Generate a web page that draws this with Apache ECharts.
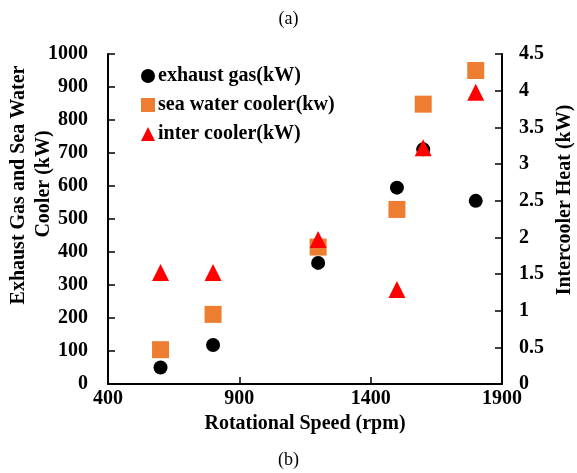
<!DOCTYPE html>
<html><head><meta charset="utf-8">
<script src="https://cdn.jsdelivr.net/npm/echarts@6/dist/echarts.min.js"></script>
<style>html,body{margin:0;padding:0;background:#fff}#c{width:577px;height:473px}</style>
</head><body><div id="c"></div>
<script>
const speeds = [600, 800, 1200, 1500, 1600, 1800];
const exhaustGas = [50, 118, 367, 595, 711, 555];
const seaWater = [104, 211, 415, 529, 848, 950];
const interCooler = [1.52, 1.52, 1.97, 1.29, 3.22, 3.98];
const xTicks = [400, 900, 1400, 1900];

const F = 'Liberation Serif, Times New Roman, serif';
const pair = (xs, ys) => xs.map((x, i) => [x, ys[i]]);
const plain = v => String(v);
const chart = echarts.init(document.getElementById('c'));
const bold = {fontFamily: F, fontSize: 20, fontWeight: 'bold', color: '#000'};
chart.setOption({
  animation: false,
  textStyle: {fontFamily: F},
  title: [
    {text: '(a)', left: 'center', top: 5, textStyle: {fontFamily: F, fontSize: 18, fontWeight: 'normal', color: '#000'}},
    {text: '(b)', left: 'center', top: 446, textStyle: {fontFamily: F, fontSize: 18, fontWeight: 'normal', color: '#000'}}
  ],
  graphic: [
    {type: 'text', x: 19, y: 185, rotation: Math.PI / 2,
     style: {text: 'Exhaust Gas and Sea Water', font: 'bold 20px ' + F, fill: '#000', align: 'center', verticalAlign: 'middle'}},
    {type: 'text', x: 44, y: 184, rotation: Math.PI / 2,
     style: {text: 'Cooler (kW)', font: 'bold 20px ' + F, fill: '#000', align: 'center', verticalAlign: 'middle'}},
    {type: 'text', x: 565, y: 200, rotation: Math.PI / 2,
     style: {text: 'Intercooler Heat (kW)', font: 'bold 20px ' + F, fill: '#000', align: 'center', verticalAlign: 'middle'}}
  ],
  grid: {left: 108, right: 75, top: 54, bottom: 89},
  legend: {
    orient: 'vertical', left: 136, top: 61, itemGap: 9, itemWidth: 14, itemHeight: 14,
    textStyle: {fontFamily: F, fontSize: 20, fontWeight: 'bold', color: '#000', padding: [0, 0, 0, -2]},
    data: [
      {name: 'exhaust gas(kW)', icon: 'circle'},
      {name: 'sea water cooler(kw)', icon: 'rect'},
      {name: 'inter cooler(kW)', icon: 'triangle'}
    ]
  },
  xAxis: {
    type: 'value', min: xTicks[0], max: xTicks[xTicks.length - 1], interval: 500,
    name: 'Rotational Speed (rpm)', nameLocation: 'middle', nameGap: 16,
    nameTextStyle: bold,
    axisLine: {onZero: false, lineStyle: {color: '#000', width: 2}},
    axisTick: {inside: true, length: 7, lineStyle: {color: '#000', width: 1.5}},
    axisLabel: Object.assign({margin: 5, formatter: plain}, bold),
    splitLine: {show: false}
  },
  yAxis: [
    {
      type: 'value', min: 0, max: 1000, interval: 100,
      axisLine: {show: true, lineStyle: {color: '#000', width: 2}},
      axisTick: {show: true, inside: true, length: 7, lineStyle: {color: '#000', width: 1.5}},
      axisLabel: Object.assign({margin: 20, formatter: plain}, bold),
      splitLine: {show: false}
    },
    {
      type: 'value', min: 0, max: 4.5, interval: 0.5, position: 'right',
      axisLine: {show: true, lineStyle: {color: '#000', width: 2}},
      axisTick: {show: true, inside: true, length: 7, lineStyle: {color: '#000', width: 1.5}},
      axisLabel: Object.assign({margin: 17, formatter: plain}, bold),
      splitLine: {show: false}
    }
  ],
  series: [
    {name: 'exhaust gas(kW)', type: 'scatter', symbol: 'circle', symbolSize: 14, itemStyle: {color: '#000', opacity: 1}, data: pair(speeds, exhaustGas)},
    {name: 'sea water cooler(kw)', type: 'scatter', symbol: 'rect', symbolSize: 17, itemStyle: {color: '#ED7D31', opacity: 1}, data: pair(speeds, seaWater)},
    {name: 'inter cooler(kW)', type: 'scatter', symbol: 'triangle', symbolSize: 17, yAxisIndex: 1, itemStyle: {color: '#FF0000', opacity: 1}, data: pair(speeds, interCooler)}
  ]
});
</script></body></html>
